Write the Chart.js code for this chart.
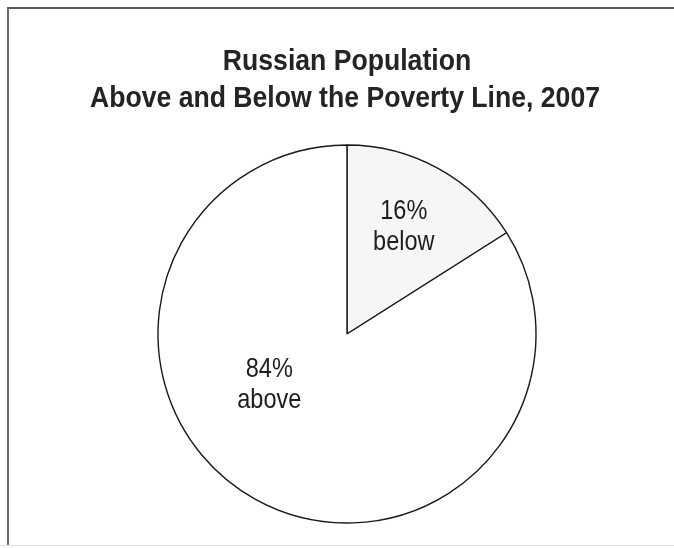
<!DOCTYPE html>
<html>
<head>
<meta charset="utf-8">
<script src="https://cdn.jsdelivr.net/npm/chart.js@4.4.0/dist/chart.umd.min.js"></script>
<style>
  html, body { margin: 0; padding: 0; background: #fff; }
  #wrap { position: relative; width: 674px; height: 548px; overflow: hidden; }
  #frame { position: absolute; left: 7px; top: 7px; width: 700px; height: 538px;
           border-top: 2px solid #5a5a5a; border-left: 2px solid #6a6a6a; box-sizing: border-box; }
  #bottomline { position: absolute; left: 0; top: 545px; width: 674px; height: 1px; background: #e4e4e4; }
  canvas { position: absolute; left: 0; top: 0; }
</style>
</head>
<body>
<div id="wrap">
  <div id="frame"></div>
  <div id="bottomline"></div>
  <canvas id="c" width="674" height="548"></canvas>
</div>
<script>
const titleLines = ["Russian Population", "Above and Below the Poverty Line, 2007"];
const categories = ["below", "above"];
const values = [16, 84];
const percentLabels = ["16%", "84%"];

const sliceColors = ["#f6f6f6", "#ffffff"];
// label placement in polar terms relative to the pie (degrees clockwise from top, fraction of radius)
const labelAngleDeg = [28, 237];
const labelRadiusFrac = [0.64, 0.49];

function condensedText(ctx, text, x, y, sx) {
  ctx.save();
  ctx.translate(x, y);
  ctx.scale(sx, 1);
  ctx.fillText(text, 0, 0);
  ctx.restore();
}

const titlePlugin = {
  id: 'condensedTitle',
  afterDraw(chart) {
    const ctx = chart.ctx;
    const cx = (chart.chartArea.left + chart.chartArea.right) / 2;
    ctx.save();
    ctx.fillStyle = '#242424';
    ctx.font = 'bold 30px "Liberation Sans", Arial, sans-serif';
    ctx.textAlign = 'center';
    ctx.textBaseline = 'alphabetic';
    const sx = 510 / ctx.measureText(titleLines[1]).width;
    condensedText(ctx, titleLines[0], cx, 70, sx);
    condensedText(ctx, titleLines[1], cx - 2, 107, sx);
    ctx.restore();
  }
};

const labelPlugin = {
  id: 'sliceLabels',
  afterDatasetsDraw(chart) {
    const ctx = chart.ctx;
    const meta = chart.getDatasetMeta(0);
    ctx.save();
    ctx.fillStyle = '#1e1e1e';
    ctx.font = '28px "Liberation Sans", Arial, sans-serif';
    ctx.textAlign = 'center';
    ctx.textBaseline = 'middle';
    meta.data.forEach((arc, i) => {
      const a = labelAngleDeg[i] * Math.PI / 180;
      const r = arc.outerRadius * labelRadiusFrac[i];
      const x = arc.x + r * Math.sin(a);
      const y = arc.y - r * Math.cos(a);
      condensedText(ctx, percentLabels[i], x, y - 15.5, 0.84);
      condensedText(ctx, categories[i], x, y + 15.5, 0.84);
    });
    ctx.restore();
  }
};

new Chart(document.getElementById('c'), {
  type: 'pie',
  data: {
    labels: categories,
    datasets: [{
      data: values,
      backgroundColor: sliceColors,
      borderColor: '#1a1a1a',
      borderWidth: 1.4,
      hoverOffset: 0
    }]
  },
  options: {
    responsive: false,
    animation: false,
    radius: 189,
    layout: { padding: { left: 20, right: 0, top: 145, bottom: 25 } },
    plugins: {
      legend: { display: false },
      tooltip: { enabled: false },
      title: { display: false }
    }
  },
  plugins: [labelPlugin, titlePlugin]
});
</script>
</body>
</html>
